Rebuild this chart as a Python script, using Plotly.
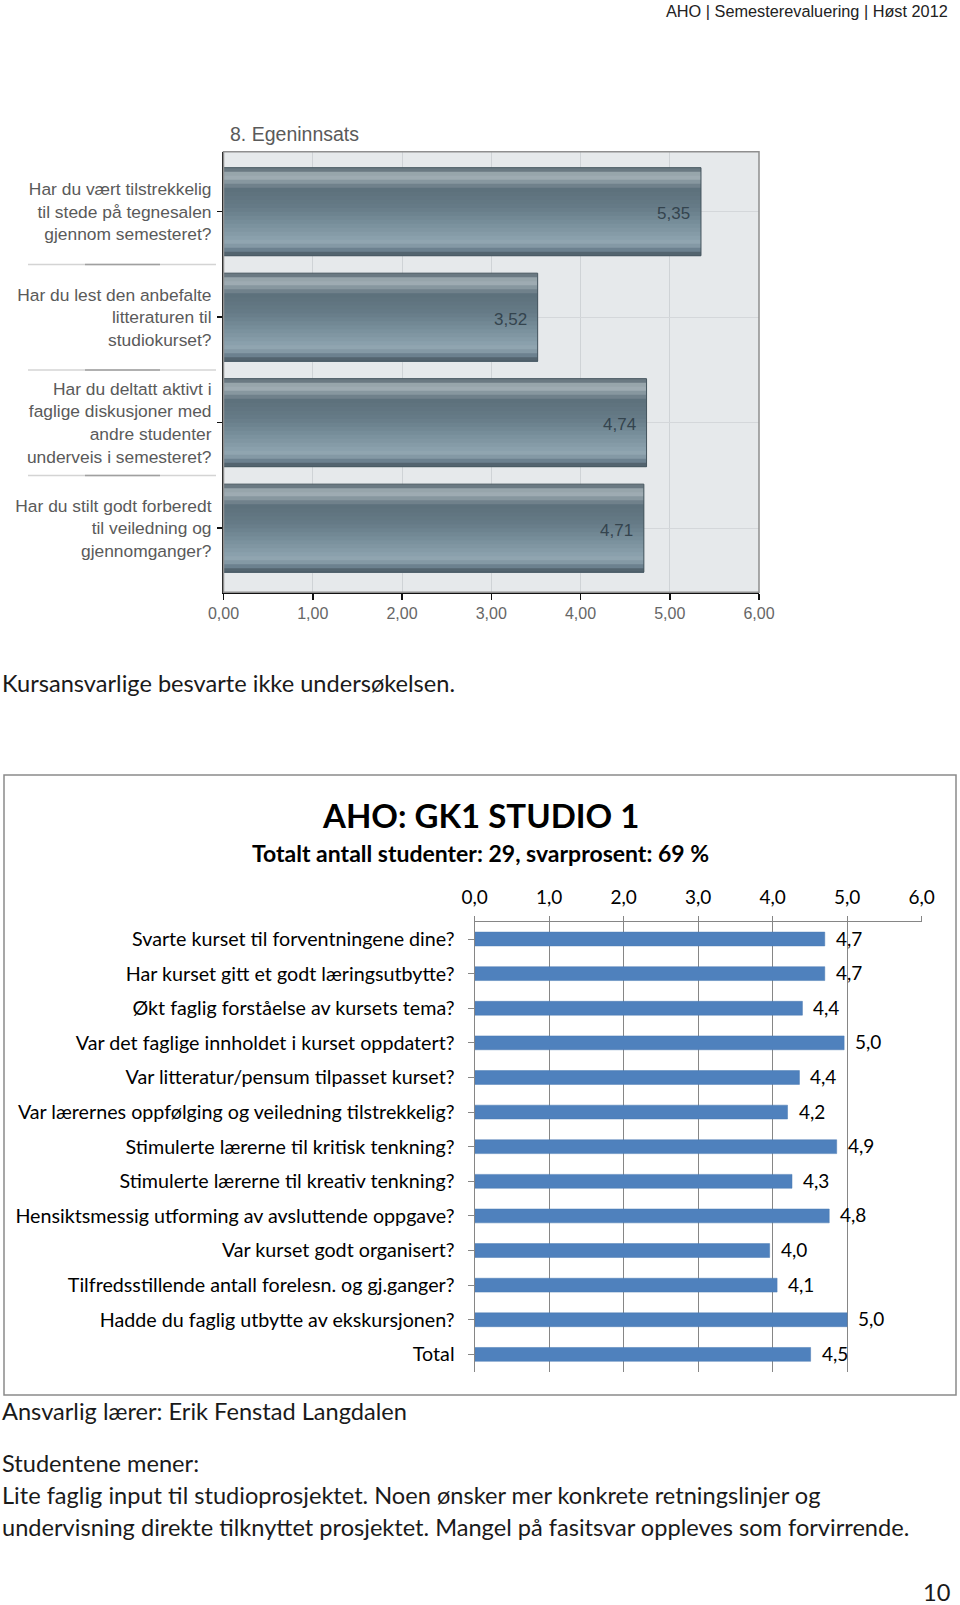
import plotly.graph_objects as go

W, H = 960, 1605

# ---------------- data ----------------
egen_title = "8. Egeninnsats"
egen_questions = [
    "Har du vært tilstrekkelig<br>til stede på tegnesalen<br>gjennom semesteret?",
    "Har du lest den anbefalte<br>litteraturen til<br>studiokurset?",
    "Har du deltatt aktivt i<br>faglige diskusjoner med<br>andre studenter<br>underveis i semesteret?",
    "Har du stilt godt forberedt<br>til veiledning og<br>gjennomganger?",
]
egen_values = [5.35, 3.52, 4.74, 4.71]
egen_ticks = [0, 1, 2, 3, 4, 5, 6]

studio_title = "AHO: GK1 STUDIO 1"
studio_subtitle = "Totalt antall studenter: 29, svarprosent: 69 %"
studio_questions = [
    "Svarte kurset til forventningene dine?",
    "Har kurset gitt et godt læringsutbytte?",
    "Økt faglig forståelse av kursets tema?",
    "Var det faglige innholdet i kurset oppdatert?",
    "Var litteratur/pensum tilpasset kurset?",
    "Var lærernes oppfølging og veiledning tilstrekkelig?",
    "Stimulerte lærerne til kritisk tenkning?",
    "Stimulerte lærerne til kreativ tenkning?",
    "Hensiktsmessig utforming av avsluttende oppgave?",
    "Var kurset godt organisert?",
    "Tilfredsstillende antall forelesn. og gj.ganger?",
    "Hadde du faglig utbytte av ekskursjonen?",
    "Total",
]
studio_values = [4.70, 4.70, 4.40, 4.96, 4.36, 4.20, 4.86, 4.26, 4.76, 3.96, 4.06, 5.00, 4.51]
studio_ticks = [0, 1, 2, 3, 4, 5, 6]

header_text = "AHO | Semesterevaluering | Høst 2012"
note_text = "Kursansvarlige besvarte ikke undersøkelsen."
teacher_text = "Ansvarlig lærer: Erik Fenstad Langdalen"
opinion_head = "Studentene mener:"
opinion_lines = [
    "Lite faglig input til studioprosjektet. Noen ønsker mer konkrete retningslinjer og",
    "undervisning direkte tilknyttet prosjektet. Mangel på fasitsvar oppleves som forvirrende.",
]
page_number = "10"


def px(x):
    return x / W


def py(y):
    return 1 - y / H


def hex2rgb(h):
    h = h.lstrip("#")
    return tuple(int(h[i:i + 2], 16) for i in (0, 2, 4))


def lerp_color(stops, t):
    for (t0, c0), (t1, c1) in zip(stops[:-1], stops[1:]):
        if t0 <= t <= t1:
            f = 0 if t1 == t0 else (t - t0) / (t1 - t0)
            a, b = hex2rgb(c0), hex2rgb(c1)
            return "rgb(%d,%d,%d)" % tuple(round(a[k] + (b[k] - a[k]) * f) for k in range(3))
    return stops[-1][1]


fig = go.Figure()

# ---------------- chart 1 (gradient bars) ----------------
pos1 = list(range(len(egen_values)))
T = 0.835
grad_stops = [
    (0.00, "#4e5e68"),
    (0.04, "#7f8e96"),
    (0.09, "#aab6bc"),
    (0.15, "#8c9ba3"),
    (0.24, "#5d707b"),
    (0.45, "#667b87"),
    (0.70, "#7f96a2"),
    (0.86, "#92a7b2"),
    (0.93, "#6d8290"),
    (1.00, "#46565f"),
]
N = 22
for i in range(N):
    s = i / N
    c = lerp_color(grad_stops, (i + 0.5) / N)
    fig.add_trace(go.Bar(
        x=egen_values, y=pos1, orientation="h",
        width=T * (1 - s), offset=-T / 2 + s * T,
        marker=dict(color=c, line=dict(width=0)),
        xaxis="x", yaxis="y", showlegend=False, hoverinfo="skip",
    ))
fig.add_trace(go.Bar(
    x=egen_values, y=pos1, orientation="h", width=T,
    marker=dict(color="rgba(0,0,0,0)", line=dict(color="#46565f", width=1)),
    xaxis="x", yaxis="y", showlegend=False, hoverinfo="skip",
))

annotations = []
for p, v in zip(pos1, egen_values):
    annotations.append(dict(
        x=v, y=p, xref="x", yref="y", text=f"{v:.2f}".replace(".", ","),
        xanchor="right", yanchor="middle", xshift=-9, yshift=-2, showarrow=False,
        font=dict(family="Liberation Sans, Arial", size=17, color="#34444e"),
    ))

# ---------------- chart 2 (blue bars) ----------------
pos2 = list(range(len(studio_values)))
fig.add_trace(go.Bar(
    x=studio_values, y=pos2, orientation="h", width=0.4,
    marker=dict(color="#4f81bd", line=dict(color="#4a7ab3", width=0.5)),
    xaxis="x2", yaxis="y2", showlegend=False, hoverinfo="skip",
))
for p, v in zip(pos2, studio_values):
    annotations.append(dict(
        x=v, y=p, xref="x2", yref="y2", text=f"{v:.1f}".replace(".", ","),
        xanchor="left", yanchor="middle", xshift=9, yshift=1, showarrow=False,
        font=dict(family="Lato", size=19, color="#000000"),
    ))

# ---------------- page texts ----------------
FOOT = 23.6
annotations += [
    dict(x=px(950), y=py(11), xref="paper", yref="paper", text=header_text,
         xanchor="right", yanchor="middle", showarrow=False,
         font=dict(family="Liberation Sans, Arial", size=16.3, color="#222222")),
    dict(x=px(228), y=py(134), xref="paper", yref="paper", text=egen_title,
         xanchor="left", yanchor="middle", showarrow=False,
         font=dict(family="Liberation Sans, Arial", size=19.5, color="#5a5a5a")),
    dict(x=px(0), y=py(683), xref="paper", yref="paper", text=note_text,
         xanchor="left", yanchor="middle", showarrow=False,
         font=dict(family="Lato", size=FOOT, color="#1a1a1a")),
    dict(x=px(480), y=py(815), xref="paper", yref="paper", text="<b>" + studio_title + "</b>",
         xanchor="center", yanchor="middle", showarrow=False,
         font=dict(family="Lato", size=33, color="#000000")),
    dict(x=px(480), y=py(853), xref="paper", yref="paper", text="<b>" + studio_subtitle + "</b>",
         xanchor="center", yanchor="middle", showarrow=False,
         font=dict(family="Lato", size=23, color="#000000")),
    dict(x=px(0), y=py(1411), xref="paper", yref="paper", text=teacher_text,
         xanchor="left", yanchor="middle", showarrow=False,
         font=dict(family="Lato", size=FOOT, color="#1a1a1a")),
    dict(x=px(0), y=py(1463), xref="paper", yref="paper", text=opinion_head,
         xanchor="left", yanchor="middle", showarrow=False,
         font=dict(family="Lato", size=FOOT, color="#1a1a1a")),
    dict(x=px(952), y=py(1592), xref="paper", yref="paper", text=page_number,
         xanchor="right", yanchor="middle", showarrow=False,
         font=dict(family="Lato", size=FOOT, color="#1a1a1a")),
]
for i, line in enumerate(opinion_lines):
    annotations.append(dict(
        x=px(0), y=py(1495 + 32 * i), xref="paper", yref="paper", text=line,
        xanchor="left", yanchor="middle", showarrow=False,
        font=dict(family="Lato", size=FOOT, color="#1a1a1a")))

# ---------------- shapes ----------------
shapes = [
    dict(type="rect", xref="paper", yref="paper",
         x0=px(223.5), x1=px(759), y0=py(592.3), y1=py(151.7),
         fillcolor="#e6e9eb", line=dict(width=0), layer="below"),
    dict(type="rect", xref="paper", yref="paper",
         x0=px(223.5), x1=px(759), y0=py(592.3), y1=py(151.7),
         line=dict(color="#8f8f8f", width=1.5), layer="above"),
    dict(type="rect", xref="paper", yref="paper",
         x0=px(4), x1=px(956), y0=py(1395), y1=py(775),
         line=dict(color="#8a8a8a", width=1.5)),
]
for b in [0.5, 1.5, 2.5]:
    shapes.append(dict(type="line", xref="paper", yref="y", x0=px(28), x1=px(216), y0=b, y1=b,
                       line=dict(color="#d4d4d4", width=1.5)))
    shapes.append(dict(type="line", xref="paper", yref="y", x0=px(85), x1=px(160), y0=b, y1=b,
                       line=dict(color="#a0a0a0", width=1.5)))

fig.update_layout(
    template="none",
    width=W, height=H, autosize=False,
    margin=dict(l=0, r=0, t=0, b=0, pad=0, autoexpand=False),
    paper_bgcolor="white",
    plot_bgcolor="rgba(0,0,0,0)",
    barmode="overlay",
    separators=",.",
    showlegend=False,
    annotations=annotations,
    shapes=shapes,
    xaxis=dict(
        domain=[px(223.5), px(759)], anchor="y", range=[0, 6], automargin=False,
        tickvals=egen_ticks, tickformat=".2f",
        ticks="outside", ticklen=6, tickcolor="#111111", tickwidth=1.5,
        showline=True, linecolor="#111111", linewidth=1.5,
        showgrid=True, gridcolor="#cfd3d6", gridwidth=1,
        zeroline=False, fixedrange=True,
        tickfont=dict(family="Liberation Sans, Arial", size=16, color="#666666"),
    ),
    yaxis=dict(
        domain=[py(592.3), py(151.7)], anchor="x", range=[3.608, -0.569], automargin=False,
        tickvals=pos1, ticktext=egen_questions,
        ticks="outside", ticklen=5, tickcolor="#111111", tickwidth=1.5,
        showline=True, linecolor="#111111", linewidth=1.5,
        showgrid=True, gridcolor="#d4d7da", gridwidth=1,
        zeroline=False, fixedrange=True, ticklabelstandoff=2,
        tickfont=dict(family="Liberation Sans, Arial", size=17.4, color="#5a5a5a"),
    ),
    xaxis2=dict(
        domain=[px(474.7), px(921.6)], anchor="y2", side="top", range=[0, 6], automargin=False,
        tickvals=studio_ticks, tickformat=".1f",
        ticks="outside", ticklen=5, tickcolor="#868686",
        showline=True, linecolor="#868686", linewidth=1.2,
        showgrid=True, gridcolor="#868686", gridwidth=1.2,
        zeroline=False, fixedrange=True, ticklabelstandoff=4,
        tickfont=dict(family="Lato", size=19, color="#000000"),
    ),
    yaxis2=dict(
        domain=[py(1371.7), py(921.7)], anchor="x2", range=[12.5, -0.5], automargin=False,
        tickvals=pos2, ticktext=studio_questions, tickson="boundaries",
        ticks="outside", ticklen=6, tickcolor="#868686",
        showline=True, linecolor="#868686", linewidth=1.2,
        showgrid=False, zeroline=False, fixedrange=True, ticklabelstandoff=9,
        tickfont=dict(family="Lato", size=19.7, color="#000000"),
    ),
)

fig.write_html(
    "out.html",
    config={"displayModeBar": False, "staticPlot": True},
    post_script="document.body.style.margin='0px';document.body.style.overflow='hidden';",
)
